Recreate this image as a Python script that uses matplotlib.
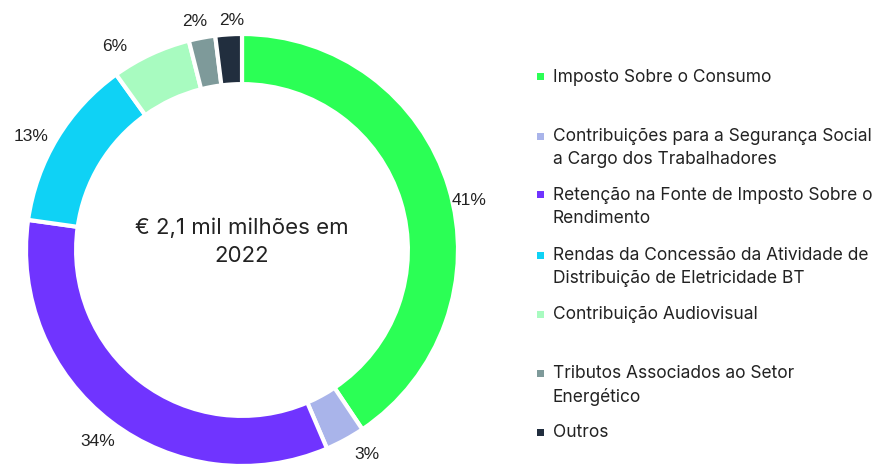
import matplotlib
matplotlib.use("Agg")
import numpy as np
import matplotlib.pyplot as plt

# data
categories = [
    "Imposto Sobre o Consumo",
    "Contribuições para a Segurança Social\na Cargo dos Trabalhadores",
    "Retenção na Fonte de Imposto Sobre o\nRendimento",
    "Rendas da Concessão da Atividade de\nDistribuição de Eletricidade BT",
    "Contribuição Audiovisual",
    "Tributos Associados ao Setor\nEnergético",
    "Outros",
]
shares = [41, 3, 34, 13, 6, 2, 2]
colors = ["#2bff55", "#a9b4ea", "#7034ff", "#0fd2f5", "#a8fbc0", "#7e9a9a", "#212e3e"]
center_text = "€ 2,1 mil milhões em\n2022"

# small pixel nudges for the percentage labels (layout only)
label_nudge = [(0, -20), (11, 4), (0, -3), (-8, -10), (-27, -12), (-3, -5), (4, -8)]

plt.rcParams['font.family'] = ['Inter', 'DejaVu Sans']
text_color = "#222222"

fig = plt.figure(figsize=(8.82, 4.65), dpi=100)

# donut axes placed in pixel terms (center ~ (242, 250), radius ~ 216)
W, H = 882, 465
cx, cy, r = 242, 250, 216
ax = fig.add_axes([(cx - r) / W, (H - cy - r) / H, 2 * r / W, 2 * r / H])
wedges, _ = ax.pie(
    shares, colors=colors, startangle=90, counterclock=False, radius=1,
    wedgeprops=dict(width=0.232, edgecolor="white", linewidth=3),
)
ax.set_xlim(-1, 1)
ax.set_ylim(-1, 1)
ax.set_aspect("equal")
ax.axis("off")

# percentage labels just outside each wedge
for w, v, (nx, ny) in zip(wedges, shares, label_nudge):
    ang = np.deg2rad((w.theta1 + w.theta2) / 2)
    ax.text(1.10 * np.cos(ang) + nx / r, 1.10 * np.sin(ang) + ny / r, f"{v}%",
            ha="center", va="center", fontsize=12.5, color=text_color,
            family=["Liberation Sans", "DejaVu Sans"])

ax.text(0, 0.04, center_text, ha="center", va="center", fontsize=16,
        color=text_color, linespacing=1.5)

# legend drawn by hand, entries are unevenly spaced in the reference
legend_y = [77, 136, 195, 255, 314, 373, 432]
for y, label, c in zip(legend_y, categories, colors):
    if "\n" in label:
        fig.text(553 / W, 1 - (y - 8) / H, label, ha="left", va="top",
                 fontsize=12.5, color=text_color, linespacing=1.45)
    else:
        fig.text(553 / W, 1 - y / H, label, ha="left", va="center",
                 fontsize=12.5, color=text_color)
    fig.patches.append(plt.Rectangle(((540 - 3.5) / W, 1 - (y + 3.5) / H),
                                     7 / W, 7 / H, facecolor=c,
                                     transform=fig.transFigure, figure=fig))

fig.savefig("out.png", dpi=100)
